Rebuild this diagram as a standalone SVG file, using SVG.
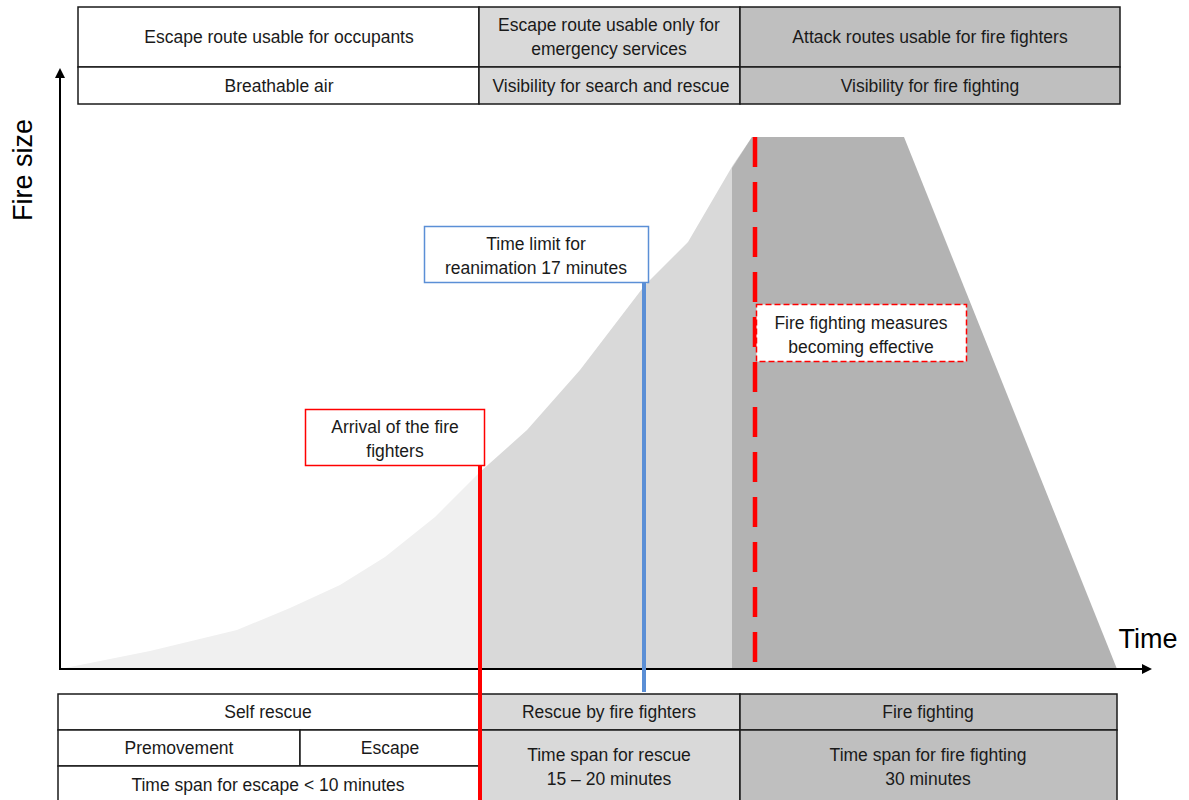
<svg xmlns="http://www.w3.org/2000/svg" width="1189" height="800" viewBox="0 0 1189 800">
<style>
  text { font-family: "Liberation Sans", Arial, sans-serif; font-size: 17.5px; fill: #1a1a1a; text-anchor: middle; }
  .cell { stroke: #1a1a1a; stroke-width: 1.5; }
  .w { fill: #ffffff; }
  .g1 { fill: #d9d9d9; }
  .g2 { fill: #bfbfbf; }
  .axis { stroke: #000; stroke-width: 2; fill: none; }
  .big { font-size: 27px; fill: #000; }
</style>
<defs>
  <marker id="arr" markerWidth="10" markerHeight="10" refX="8" refY="5" orient="auto" markerUnits="userSpaceOnUse">
    <path d="M0,0 L10,5 L0,10 Z" fill="#000"/>
  </marker>
  <clipPath id="leftClip"><rect x="0" y="0" width="480" height="800"/></clipPath>
  <clipPath id="midClip"><rect x="480" y="0" width="400" height="800"/></clipPath>
</defs>

<g id="areas">
  <path id="curveLight" clip-path="url(#leftClip)" fill="#f0f0f0" d="M60,669 L150,651 L237,630 L290,608 L340,585 L385,557 L435,517 L480,472 L527,430 L580,370 L645,285 L688,242 L733,165 L752,137 L752,669 Z"/>
  <path id="curveMid" clip-path="url(#midClip)" fill="#d9d9d9" d="M60,669 L150,651 L237,630 L290,608 L340,585 L385,557 L435,517 L480,472 L527,430 L580,370 L645,285 L688,242 L733,165 L752,137 L752,669 Z"/>
  <path id="fightArea" fill="#b3b3b3" d="M732,168 L752,137 L904,137 L1117,669 L732,669 Z"/>
</g>

<g id="axes">
  <line class="axis" x1="60" y1="670" x2="60" y2="70" marker-end="url(#arr)"/>
  <line class="axis" x1="59" y1="669" x2="1150" y2="669" marker-end="url(#arr)"/>
  <text class="big" transform="translate(32,170) rotate(-90)">Fire size</text>
  <text class="big" x="1148" y="648">Time</text>
</g>

<g id="top-table">
  <rect class="cell w" x="78" y="7" width="401" height="60"/>
  <rect class="cell g1" x="479" y="7" width="261" height="60"/>
  <rect class="cell g2" x="740" y="7" width="380" height="60"/>
  <rect class="cell w" x="78" y="67" width="401" height="37"/>
  <rect class="cell g1" x="479" y="67" width="261" height="37"/>
  <rect class="cell g2" x="740" y="67" width="380" height="37"/>
  <text x="279" y="43">Escape route usable for occupants</text>
  <text x="609" y="31">Escape route usable only for</text>
  <text x="609" y="55">emergency services</text>
  <text x="930" y="43">Attack routes usable for fire fighters</text>
  <text x="279" y="92">Breathable air</text>
  <text x="611" y="92">Visibility for search and rescue</text>
  <text x="930" y="92">Visibility for fire fighting</text>
</g>

<g id="bottom-table">
  <rect class="cell w" x="58" y="694" width="421" height="36"/>
  <rect class="cell w" x="58" y="730" width="242" height="36"/>
  <rect class="cell w" x="300" y="730" width="179" height="36"/>
  <rect class="cell w" x="58" y="766" width="421" height="40"/>
  <rect class="cell g1" x="479" y="694" width="261" height="36"/>
  <rect class="cell g1" x="479" y="730" width="261" height="76"/>
  <rect class="cell g2" x="740" y="694" width="377" height="36"/>
  <rect class="cell g2" x="740" y="730" width="377" height="76"/>
  <text x="268" y="718">Self rescue</text>
  <text x="179" y="754">Premovement</text>
  <text x="390" y="754">Escape</text>
  <text x="268" y="791">Time span for escape  &lt; 10 minutes</text>
  <text x="609" y="718">Rescue by fire fighters</text>
  <text x="609" y="761">Time span for rescue</text>
  <text x="609" y="785">15 – 20 minutes</text>
  <text x="928" y="718">Fire fighting</text>
  <text x="928" y="761">Time span for fire fighting</text>
  <text x="928" y="785">30 minutes</text>
</g>

<g id="connectors">
  <line x1="480" y1="466" x2="480" y2="800" stroke="#ff0000" stroke-width="4"/>
  <line x1="644" y1="283" x2="644" y2="692" stroke="#5b8fd6" stroke-width="4"/>
  <line x1="755" y1="137" x2="755" y2="669" stroke="#ff0000" stroke-width="4.5" stroke-dasharray="30,15"/>
</g>

<g id="arrival">
  <rect x="305.5" y="409.5" width="179" height="56" fill="#fff" stroke="#ff0000" stroke-width="1.5"/>
  <text x="395" y="433">Arrival of the fire</text>
  <text x="395" y="457">fighters</text>
</g>

<g id="reanimation">
  <rect x="424.5" y="226.5" width="224" height="56" fill="#fff" stroke="#5b8fd6" stroke-width="1.5"/>
  <text x="536" y="250">Time limit for</text>
  <text x="536" y="274">reanimation 17 minutes</text>
</g>

<g id="effective">
  <rect x="756.5" y="304.5" width="210" height="57" fill="#fff" stroke="#ff0000" stroke-width="1.5" stroke-dasharray="6,3"/>
  <text x="861" y="329">Fire fighting measures</text>
  <text x="861" y="353">becoming effective</text>
</g>
</svg>
